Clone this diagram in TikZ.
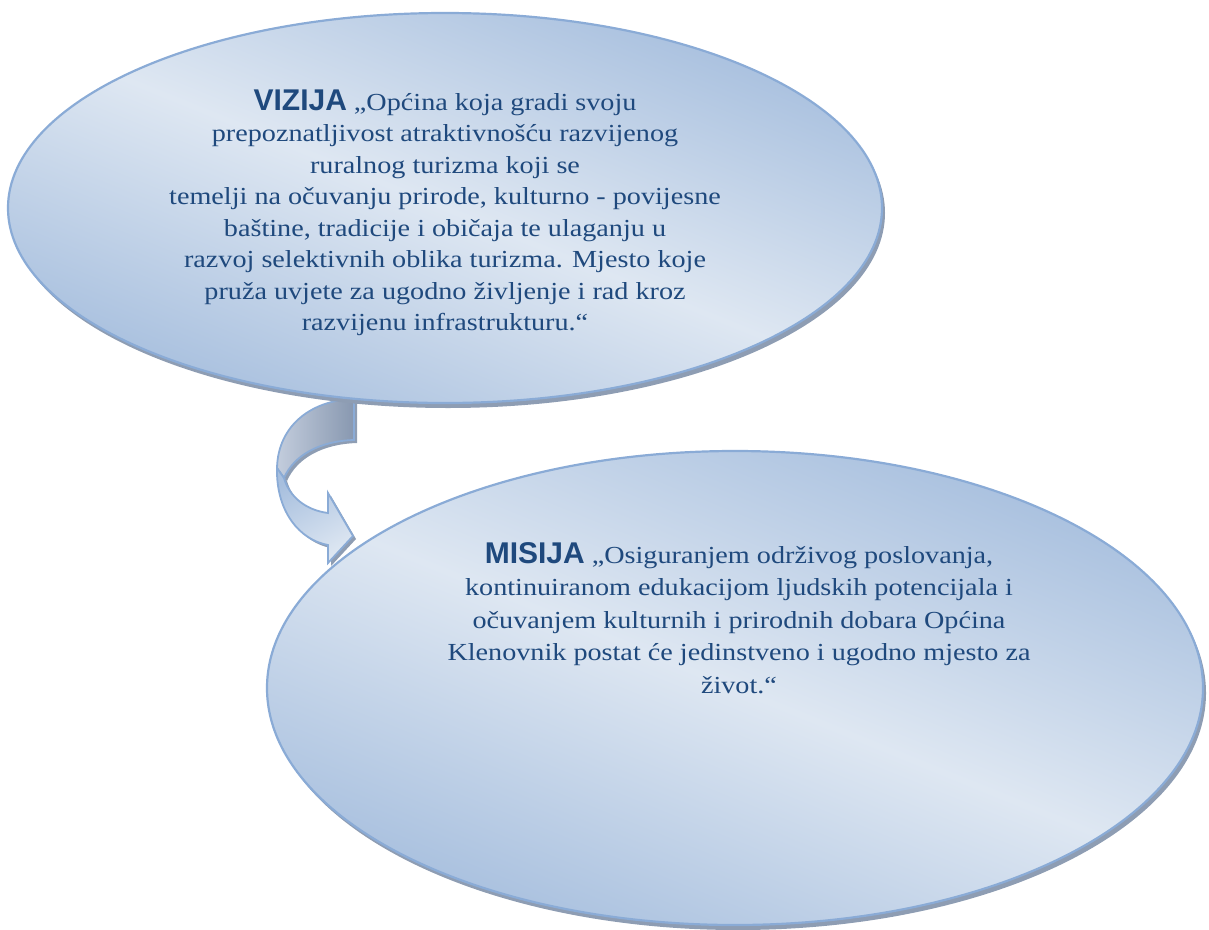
\documentclass[tikz,border=0pt]{standalone}
\usepackage{fontspec}
\setmainfont{Liberation Serif}[FakeStretch=1.15]
\newfontfamily\headfont{Liberation Sans}
\usetikzlibrary{shapes.geometric,shadows}
\definecolor{txt}{HTML}{1F497D}
\definecolor{headc}{HTML}{1F497D}
\definecolor{dark}{HTML}{A7BFDE}
\definecolor{light}{HTML}{DEE7F2}
\definecolor{edge}{HTML}{8AABD6}
\definecolor{shadowc}{HTML}{8E9DB3}
\definecolor{backl}{HTML}{C3CDDD}
\definecolor{backd}{HTML}{8898B0}
\tikzset{
  bubble/.style={ellipse, draw=edge, line width=2.2pt, inner sep=0pt,
    top color=dark, bottom color=dark, middle color=light, shading angle=-22,
    drop shadow={shadow xshift=3pt, shadow yshift=-5pt, fill=shadowc, opacity=1}},
  bubbletext/.style={align=center, text=txt, font=\fontsize{24.5}{31.5}\selectfont, inner sep=0pt},
  backface/.style={draw=edge, line width=1.8pt, left color=backl, right color=backd,
    drop shadow={shadow xshift=3pt, shadow yshift=-3pt, fill=shadowc, opacity=1}},
  frontface/.style={draw=edge, line width=1.8pt, top color=dark, bottom color=light, shading angle=30,
    drop shadow={shadow xshift=3pt, shadow yshift=-3pt, fill=shadowc, opacity=1}}
}
\newcommand{\hd}[1]{{\headfont\bfseries\fontsize{30}{31.5}\selectfont\color{headc}#1}}
\begin{document}
\begin{tikzpicture}[x=1pt,y=-1pt]
\useasboundingbox (0,0) rectangle (1209,929);
% curved arrow
\coordinate (a1) at (354,399);
\coordinate (a2) at (277,468);
\coordinate (a3) at (284,478);
\coordinate (a4) at (354,440);
\coordinate (a5) at (328,545);
\coordinate (a6) at (328,563);
\coordinate (tip) at (353,536);
\coordinate (a7) at (328,493);
\coordinate (a8) at (328,513);
\path[backface] (a1) .. controls (312,400) and (278,425) .. (a2) -- (a3)
  .. controls (294,455) and (320,441) .. (a4) -- cycle;
\path[frontface] (a2) .. controls (276,512) and (300,540) .. (a5) -- (a6) -- (tip) -- (a7) -- (a8)
  .. controls (305,510) and (289,496) .. (a3) -- cycle;
% ellipses
\node[bubble, minimum width=874pt, minimum height=390pt] (vizija) at (445,208) {};
\node[bubble, minimum width=936pt, minimum height=474pt] (misija) at (735,688) {};
% texts
\node[bubbletext] (viztext) at (445,213) {\hd{VIZIJA} „Općina koja gradi svoju\\
prepoznatljivost atraktivnošću razvijenog\\
ruralnog turizma koji se\\
temelji na očuvanju prirode, kulturno - povijesne\\
baštine, tradicije i običaja te ulaganju u\\
razvoj selektivnih oblika turizma. Mjesto koje\\
pruža uvjete za ugodno življenje i rad kroz\\
razvijenu infrastrukturu.“};
\node[bubbletext, font=\fontsize{24.5}{32.5}\selectfont] (mistext) at (739,618) {\hd{MISIJA} „Osiguranjem održivog poslovanja,\\
kontinuiranom edukacijom ljudskih potencijala i\\
očuvanjem kulturnih i prirodnih dobara Općina\\
Klenovnik postat će jedinstveno i ugodno mjesto za\\
život.“};
\end{tikzpicture}
\end{document}
